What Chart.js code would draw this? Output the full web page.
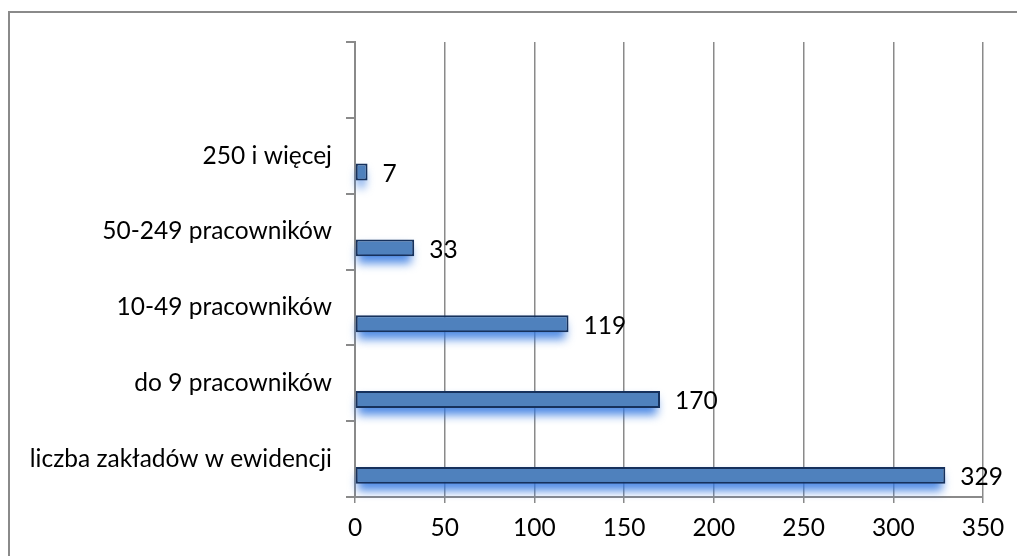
<!DOCTYPE html>
<html>
<head>
<meta charset="utf-8">
<script src="https://cdn.jsdelivr.net/npm/chart.js@4.4.0/dist/chart.umd.min.js"></script>
<style>
  html, body { margin: 0; padding: 0; background: #fff; }
  #wrap { width: 1017px; height: 556px; position: relative; }
</style>
</head>
<body>
<div id="wrap"><canvas id="c" width="1017" height="556"></canvas></div>
<script>
const categories = ['', '250 i więcej', '50-249 pracowników', '10-49 pracowników', 'do 9 pracowników', 'liczba zakładów w ewidencji'];
const values = [null, 7, 33, 119, 170, 329];
const xTicks = [0, 50, 100, 150, 200, 250, 300, 350];

const FONT = 'Lato, "Open Sans", sans-serif';
const FSIZE = 24.5;

// gray frame around the chart (only top and left edges are inside the picture)
const framePlugin = {
  id: 'frame',
  beforeDraw(chart) {
    const ctx = chart.ctx;
    ctx.save();
    ctx.strokeStyle = '#8a8a8a';
    ctx.lineWidth = 2;
    ctx.beginPath();
    ctx.moveTo(9, 600);
    ctx.lineTo(9, 12);
    ctx.lineTo(1100, 12);
    ctx.stroke();
    ctx.restore();
  }
};

// soft blue glow under each bar
const shadowPlugin = {
  id: 'barShadow',
  beforeDatasetsDraw(chart) {
    const ctx = chart.ctx;
    const meta = chart.getDatasetMeta(1);
    ctx.save();
    ctx.filter = 'blur(5px)';
    ctx.fillStyle = 'rgba(50, 120, 225, 0.85)';
    meta.data.forEach((bar, i) => {
      if (values[i] == null) return;
      const h = bar.height;
      ctx.fillRect(bar.base + 2, bar.y - h / 2 + 7, bar.x - bar.base - 5, h);
    });
    ctx.restore();
  }
};

// value labels right of each bar
const labelPlugin = {
  id: 'valueLabels',
  afterDatasetsDraw(chart) {
    const ctx = chart.ctx;
    const meta = chart.getDatasetMeta(1);
    ctx.save();
    ctx.font = FSIZE + 'px ' + FONT;
    ctx.fillStyle = '#000';
    ctx.textBaseline = 'middle';
    meta.data.forEach((bar, i) => {
      const v = values[i];
      if (v == null) return;
      ctx.fillText(String(v), bar.x + 15, bar.y + 2);
    });
    ctx.restore();
  }
};

new Chart(document.getElementById('c'), {
  type: 'bar',
  data: {
    labels: categories,
    datasets: [
      { data: categories.map(() => null), backgroundColor: 'transparent' },
      {
        data: values,
        backgroundColor: '#4f81bd',
        borderColor: '#16315c',
        borderWidth: 2,
        borderSkipped: false
      }
    ]
  },
  options: {
    indexAxis: 'y',
    responsive: false,
    animation: false,
    categoryPercentage: 0.86,
    barPercentage: 0.52,
    layout: { padding: { top: 42, right: 34, left: 0, bottom: 0 } },
    plugins: { legend: { display: false }, tooltip: { enabled: false } },
    scales: {
      x: {
        min: 0,
        max: 350,
        afterBuildTicks(scale) { scale.ticks = xTicks.map(v => ({ value: v })); },
        grid: { color: '#8a8a8a', lineWidth: 1.5, tickLength: 6, drawTicks: true },
        border: { color: '#8a8a8a', width: 2 },
        ticks: { color: '#000', font: { family: FONT, size: FSIZE }, padding: 10 },
        afterFit(scale) { scale.height = 59; }
      },
      y: {
        grid: { drawOnChartArea: false, color: '#8a8a8a', lineWidth: 2, tickLength: 9, offset: true },
        border: { color: '#8a8a8a', width: 2 },
        ticks: { color: '#000', font: { family: FONT, size: FSIZE }, padding: 14 },
        afterFit(scale) { scale.width = 355; }
      }
    }
  },
  plugins: [framePlugin, shadowPlugin, labelPlugin]
});
</script>
</body>
</html>
